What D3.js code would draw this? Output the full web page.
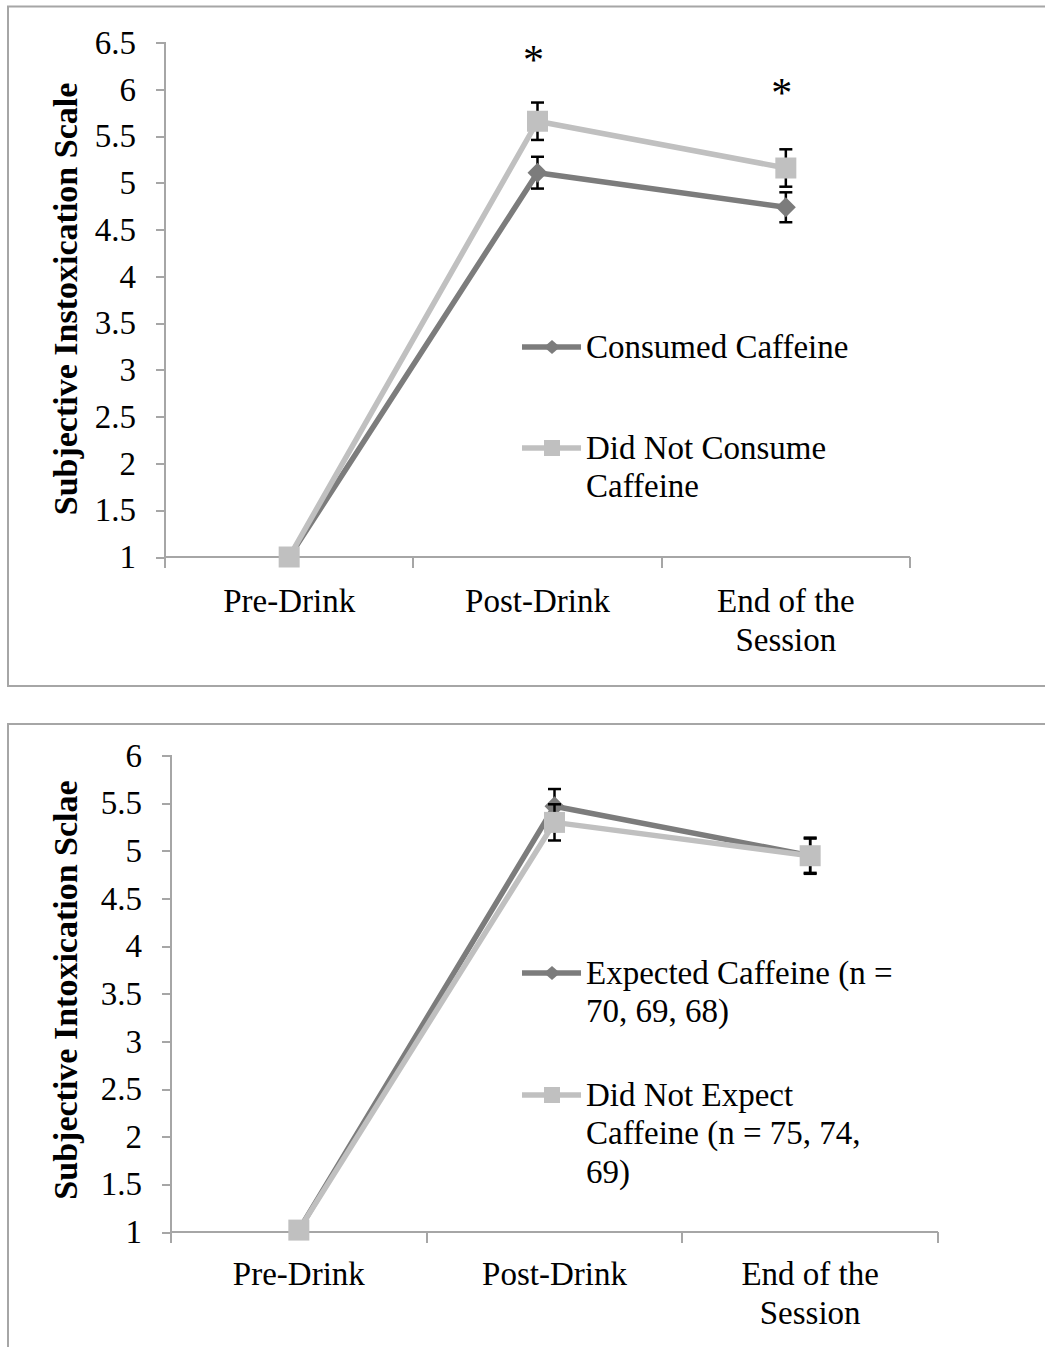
<!DOCTYPE html>
<html>
<head>
<meta charset="utf-8">
<script src="https://cdn.jsdelivr.net/npm/d3@7"></script>
<style>
  body { margin: 0; background: #fff; }
  svg { display: block; }
  text { font-family: "Liberation Serif", "Times New Roman", serif; fill: #000; }
  .axis path, .axis line { stroke: #a6a6a6; stroke-width: 2; shape-rendering: crispEdges; }
  .axis text { font-size: 33px; }
  .yTitle { font-size: 34px; font-weight: bold; }
  .legendText { font-size: 33px; }
  .frame { fill: none; stroke: #a6a6a6; stroke-width: 2; }
</style>
</head>
<body>
<div id="chart"></div>
<script>
//categories shared by both panels
var categories = ["Pre-Drink", "Post-Drink", "End of the Session"];
var categoryLines = [["Pre-Drink"], ["Post-Drink"], ["End of the", "Session"]];

//panel 1 - consumed vs did not consume caffeine
var consumed = [1.0, 5.11, 4.74];
var consumedErr = [0, 0.17, 0.16];
var notConsumed = [1.0, 5.66, 5.16];
var notConsumedErr = [0, 0.2, 0.2];
var topTicks = [1, 1.5, 2, 2.5, 3, 3.5, 4, 4.5, 5, 5.5, 6, 6.5];
var topStars = [{ cat: "Post-Drink", value: 6.37 }, { cat: "End of the Session", value: 6.02 }];

//panel 2 - expected vs did not expect caffeine
var expected = [1.02, 5.47, 4.95];
var expectedErr = [0, 0.18, 0.18];
var notExpected = [1.02, 5.30, 4.95];
var notExpectedErr = [0, 0.19, 0.19];
var bottomTicks = [1, 1.5, 2, 2.5, 3, 3.5, 4, 4.5, 5, 5.5, 6];

var darkGrey = "#7c7c7c",
    lightGrey = "#c0c0c0";

var svg = d3.select("#chart")
	.append("svg")
	.attr("width", 1045)
	.attr("height", 1347);

function drawPanel(opt) {
	var g = svg.append("g");

	//outer frame (right side runs off the page)
	g.append("rect")
		.attr("class", "frame")
		.attr("x", 8)
		.attr("y", opt.frameTop)
		.attr("width", 1060)
		.attr("height", opt.frameHeight);

	var x = d3.scaleBand()
		.domain(categories)
		.range([opt.left, opt.right]);

	var y = d3.scaleLinear()
		.domain([1, opt.yMax])
		.range([opt.bottom, opt.top]);

	//y axis
	var yAxis = g.append("g")
		.attr("class", "axis")
		.attr("transform", "translate(" + opt.left + ",0)")
		.call(d3.axisLeft(y).tickValues(opt.ticks).tickSize(9).tickSizeOuter(0).tickPadding(20)
			.tickFormat(function(d) { return d3.format("")(d); }));
	yAxis.select(".domain").attr("d", "M0," + (opt.bottom + 11) + "V" + opt.top + "H-9");

	//x axis, ticks between categories
	var bounds = categories.map(function(c) { return x(c); }).concat([opt.right]);
	var xAxis = g.append("g")
		.attr("class", "axis")
		.attr("transform", "translate(0," + opt.bottom + ")");
	xAxis.append("line")
		.attr("x1", opt.left).attr("x2", opt.right)
		.attr("y1", 0).attr("y2", 0);
	xAxis.selectAll(".xtick")
		.data(bounds)
		.enter().append("line")
		.attr("x1", function(d) { return d; })
		.attr("x2", function(d) { return d; })
		.attr("y1", 0).attr("y2", 11);
	xAxis.selectAll(".xlabel")
		.data(categories)
		.enter().append("text")
		.attr("text-anchor", "middle")
		.attr("x", function(d) { return x(d) + x.bandwidth() / 2; })
		.attr("y", opt.labelOffset)
		.each(function(d, i) {
			var t = d3.select(this);
			categoryLines[i].forEach(function(line, j) {
				t.append("tspan")
					.attr("x", x(d) + x.bandwidth() / 2)
					.attr("dy", j === 0 ? 0 : 39)
					.text(line);
			});
		});

	//y axis title
	g.append("text")
		.attr("class", "yTitle")
		.attr("transform", "translate(77," + opt.titleY + ") rotate(-90)")
		.attr("text-anchor", "middle")
		.text(opt.title);

	var cx = function(i) { return x(categories[i]) + x.bandwidth() / 2; };
	var line = d3.line()
		.x(function(d, i) { return cx(i); })
		.y(function(d) { return y(d); });

	opt.series.forEach(function(s) {
		var sg = g.append("g");
		sg.append("path")
			.datum(s.values)
			.attr("fill", "none")
			.attr("stroke", s.color)
			.attr("stroke-width", 5.5)
			.attr("stroke-linejoin", "round")
			.attr("d", line);

		//error bars
		var eb = sg.selectAll(".err")
			.data(s.values.map(function(v, i) { return { v: v, e: s.err[i], i: i }; })
				.filter(function(d) { return d.e > 0; }))
			.enter().append("g")
			.attr("stroke", "#000")
			.attr("stroke-width", 2.5);
		eb.append("line")
			.attr("x1", function(d) { return cx(d.i); })
			.attr("x2", function(d) { return cx(d.i); })
			.attr("y1", function(d) { return y(d.v - d.e); })
			.attr("y2", function(d) { return y(d.v + d.e); });
		[-1, 1].forEach(function(sign) {
			eb.append("line")
				.attr("x1", function(d) { return cx(d.i) - 6.5; })
				.attr("x2", function(d) { return cx(d.i) + 6.5; })
				.attr("y1", function(d) { return y(d.v + sign * d.e); })
				.attr("y2", function(d) { return y(d.v + sign * d.e); });
		});

		//markers
		sg.selectAll(".marker")
			.data(s.values)
			.enter().append("path")
			.attr("fill", s.color)
			.attr("transform", function(d, i) { return "translate(" + cx(i) + "," + y(d) + ")"; })
			.attr("d", s.shape === "diamond" ? "M0,-10L10,0L0,10L-10,0Z" : "M-10.5,-10.5H10.5V10.5H-10.5Z");
	});

	//significance stars
	g.selectAll(".star")
		.data(opt.stars || [])
		.enter().append("text")
		.attr("text-anchor", "middle")
		.style("font-size", "42px")
		.attr("x", function(d) { return x(d.cat) + x.bandwidth() / 2 - 4; })
		.attr("y", function(d) { return y(d.value) + 19; })
		.text("*");

	//legend
	opt.legend.forEach(function(item) {
		var lg = g.append("g");
		lg.append("line")
			.attr("x1", 522).attr("x2", 581)
			.attr("y1", item.y - 11).attr("y2", item.y - 11)
			.attr("stroke", item.color)
			.attr("stroke-width", 5.5);
		lg.append("path")
			.attr("fill", item.color)
			.attr("transform", "translate(552," + (item.y - 11) + ")")
			.attr("d", item.shape === "diamond" ? "M0,-7L8,0L0,7L-8,0Z" : "M-8,-8H8V8H-8Z");
		var t = lg.append("text")
			.attr("class", "legendText")
			.attr("x", 586)
			.attr("y", item.y);
		item.lines.forEach(function(l, j) {
			t.append("tspan")
				.attr("x", 586)
				.attr("dy", j === 0 ? 0 : 38.3)
				.text(l);
		});
	});
}

drawPanel({
	frameTop: 6.5, frameHeight: 679.5,
	left: 165, right: 910, top: 42.7, bottom: 557, yMax: 6.5,
	ticks: topTicks,
	labelOffset: 55,
	title: "Subjective Instoxication Scale", titleY: 299,
	stars: topStars,
	series: [
		{ values: consumed, err: consumedErr, color: darkGrey, shape: "diamond" },
		{ values: notConsumed, err: notConsumedErr, color: lightGrey, shape: "square" }
	],
	legend: [
		{ y: 358, color: darkGrey, shape: "diamond", lines: ["Consumed Caffeine"] },
		{ y: 459, color: lightGrey, shape: "square", lines: ["Did Not Consume", "Caffeine"] }
	]
});

drawPanel({
	frameTop: 724, frameHeight: 700,
	left: 171, right: 938, top: 755.7, bottom: 1232, yMax: 6,
	ticks: bottomTicks,
	labelOffset: 53,
	title: "Subjective Intoxication Sclae", titleY: 990,
	series: [
		{ values: expected, err: expectedErr, color: darkGrey, shape: "diamond" },
		{ values: notExpected, err: notExpectedErr, color: lightGrey, shape: "square" }
	],
	legend: [
		{ y: 984, color: darkGrey, shape: "diamond", lines: ["Expected Caffeine (n =", "70, 69, 68)"] },
		{ y: 1106, color: lightGrey, shape: "square", lines: ["Did Not Expect", "Caffeine (n = 75, 74,", "69)"] }
	]
});
</script>
</body>
</html>
